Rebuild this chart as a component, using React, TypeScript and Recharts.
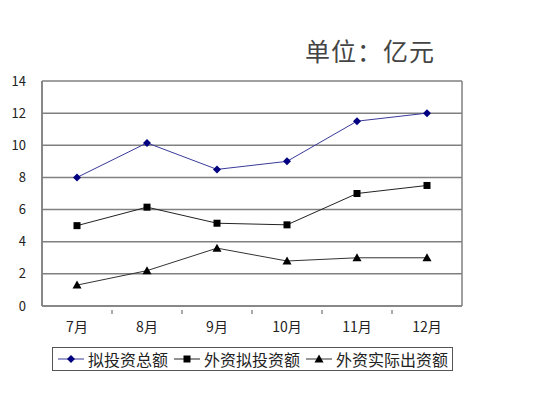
import { CartesianGrid, Line, LineChart, XAxis, YAxis } from 'recharts';

const months = ['7月', '8月', '9月', '10月', '11月', '12月'];
const totalPlanned = [8, 10.15, 8.5, 9, 11.5, 12];
const foreignPlanned = [5, 6.15, 5.15, 5.05, 7, 7.5];
const foreignActual = [1.3, 2.2, 3.6, 2.8, 3, 3];
const yTicks = [0, 2, 4, 6, 8, 10, 12, 14];

const SERIES = [
  { key: 'total', name: '拟投资总额', values: totalPlanned, line: '#3a3a9a', mark: '#000080', shape: 'diamond' },
  { key: 'fplan', name: '外资拟投资额', values: foreignPlanned, line: '#222', mark: '#000', shape: 'square' },
  { key: 'fact', name: '外资实际出资额', values: foreignActual, line: '#333', mark: '#000', shape: 'triangle' },
];

const data = months.map((m, i) => {
  const row: Record<string, string | number> = { month: m };
  for (const s of SERIES) row[s.key] = s.values[i];
  return row;
});

const FONT = '"Noto Sans CJK SC", "DejaVu Sans", sans-serif';
const GRID = '#808080';

function Marker({ shape, color, cx, cy }: { shape: string; color: string; cx: number; cy: number }) {
  if (shape === 'diamond') {
    return <polygon points={`${cx},${cy - 4} ${cx + 4},${cy} ${cx},${cy + 4} ${cx - 4},${cy}`} fill={color} />;
  }
  if (shape === 'square') {
    return <rect x={cx - 3.5} y={cy - 3.5} width={7} height={7} fill={color} />;
  }
  return <polygon points={`${cx},${cy - 4.5} ${cx + 4.5},${cy + 3.5} ${cx - 4.5},${cy + 3.5}`} fill={color} />;
}

function MonthTick(props: any) {
  const { x, y, payload, index } = props;
  const band = 70;
  return (
    <g>
      <text x={x} y={y + 18} textAnchor="middle" fontSize={14} fill="#222" fontFamily={FONT}>
        {payload.value}
      </text>
      {index < months.length - 1 && (
        <line x1={x + band / 2} x2={x + band / 2} y1={y - 4} y2={y} stroke="#555" strokeWidth={1} />
      )}
    </g>
  );
}

function LegendBox() {
  return (
    <div
      style={{
        position: 'absolute',
        left: 52,
        top: 347,
        width: 401,
        height: 24,
        border: '1px solid #555',
        display: 'flex',
        alignItems: 'center',
        fontFamily: FONT,
        fontSize: 16,
        color: '#222',
        boxSizing: 'border-box',
        paddingLeft: 4,
        whiteSpace: 'nowrap',
      }}
    >
      {SERIES.map((s) => (
        <span key={s.key} style={{ display: 'flex', alignItems: 'center', marginRight: 5 }}>
          <svg width={28} height={12}>
            <line x1={1} x2={27} y1={6} y2={6} stroke={s.line} strokeWidth={1} />
            <Marker shape={s.shape} color={s.mark} cx={14} cy={6} />
          </svg>
          <span style={{ marginLeft: 3 }}>{s.name}</span>
        </span>
      ))}
    </div>
  );
}

export default function App() {
  return (
    <div style={{ position: 'relative', width: 556, height: 398, margin: -8, background: '#fff' }}>
      <div
        style={{
          position: 'absolute',
          left: 305,
          top: 32,
          fontFamily: FONT,
          fontSize: 25,
          color: '#444',
          letterSpacing: 1,
        }}
      >
        单位：亿元
      </div>
      <LineChart width={556} height={398} data={data} margin={{ top: 81, right: 94, bottom: 72, left: 0 }}>
        <CartesianGrid
          stroke={GRID}
          strokeWidth={1.5}
          verticalCoordinatesGenerator={({ offset }: any) => [offset.left, offset.left + offset.width]}
        />
        <XAxis
          dataKey="month"
          height={20}
          padding={{ left: 35, right: 35 }}
          axisLine={{ stroke: GRID, strokeWidth: 1.5 }}
          tickLine={false}
          tick={<MonthTick />}
          interval={0}
        />
        <YAxis
          width={42}
          domain={[0, 14]}
          ticks={yTicks}
          axisLine={{ stroke: GRID, strokeWidth: 1.5 }}
          tickLine={false}
          tickMargin={10}
          tick={{ fontSize: 13, fill: '#222', fontFamily: FONT }}
        />
        {SERIES.map((s) => (
          <Line
            key={s.key}
            dataKey={s.key}
            name={s.name}
            type="linear"
            stroke={s.line}
            strokeWidth={1}
            isAnimationActive={false}
            dot={(p: any) => <Marker key={`${s.key}-${p.index}`} shape={s.shape} color={s.mark} cx={p.cx} cy={p.cy} />}
            activeDot={false}
          />
        ))}
      </LineChart>
      <LegendBox />
    </div>
  );
}
